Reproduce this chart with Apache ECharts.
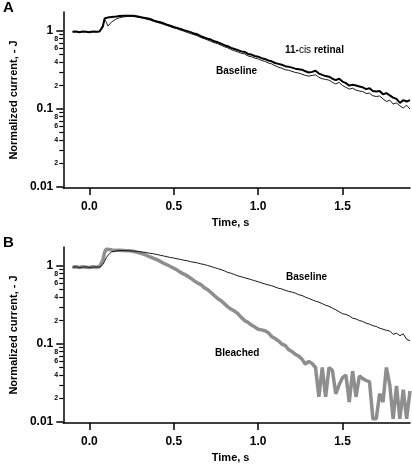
<!DOCTYPE html>
<html><head><meta charset="utf-8">
<script src="https://cdn.jsdelivr.net/npm/echarts@6/dist/echarts.min.js"></script>
<style>html,body{margin:0;padding:0;background:#fff}#c{width:412px;height:464px}</style>
</head><body><div id="c"></div>
<script>
// Time samples, s
const time = [-0.10,-0.08,-0.06,-0.04,-0.02,0.00,0.02,0.04,0.06,0.07,0.08,0.09,0.10,0.11,0.12,0.13,0.14,
0.16,0.18,0.20,0.22,0.24,0.26,0.28,0.30,0.32,0.34,0.36,0.38,0.40,0.42,0.44,0.46,0.48,0.50,0.52,0.54,0.56,0.58,
0.60,0.62,0.64,0.66,0.68,0.70,0.72,0.74,0.76,0.78,0.80,0.82,0.84,0.86,0.88,0.90,0.92,0.94,0.96,0.98,1.00,
1.02,1.04,1.06,1.08,1.10,1.12,1.14,1.16,1.18,1.20,1.22,1.24,1.26,1.28,1.30,1.32,1.34,1.36,1.38,1.40,
1.42,1.44,1.46,1.48,1.50,1.52,1.54,1.56,1.58,1.60,1.62,1.64,1.66,1.68,1.70,1.72,1.74,1.76,1.78,1.80,
1.82,1.84,1.86,1.88,1.90];

// Panel A: thick black, 11-cis retinal
const cisRetinal = [0.98,0.99,0.97,0.99,0.98,0.97,0.99,0.98,0.99,1.00,1.15,1.45,1.50,1.50,1.51,1.52,1.53,
1.54,1.56,1.57,1.58,1.58,1.57,1.55,1.52,1.49,1.46,1.43,1.37,1.33,1.30,1.26,1.21,1.17,1.13,1.10,1.07,1.03,1.00,
0.97,0.93,0.91,0.86,0.83,0.80,0.78,0.74,0.72,0.69,0.66,0.64,0.61,0.59,0.57,0.55,0.54,0.51,0.50,0.48,0.47,
0.45,0.44,0.42,0.41,0.39,0.38,0.37,0.355,0.35,0.34,0.33,0.325,0.32,0.305,0.295,0.30,0.31,0.285,0.275,0.265,
0.26,0.245,0.235,0.245,0.225,0.215,0.20,0.205,0.20,0.195,0.19,0.18,0.185,0.17,0.168,0.17,0.155,0.16,0.15,0.14,
0.135,0.12,0.13,0.125,0.13];

// Panel A: thin black, baseline
const baselineA = [0.98,0.99,0.97,0.99,0.98,0.97,0.99,0.98,0.99,1.00,1.20,1.42,1.30,1.16,1.22,1.30,1.36,
1.44,1.49,1.52,1.54,1.55,1.54,1.52,1.49,1.46,1.42,1.39,1.34,1.30,1.26,1.22,1.18,1.14,1.10,1.07,1.03,1.00,0.96,
0.93,0.90,0.87,0.83,0.80,0.77,0.74,0.71,0.69,0.66,0.63,0.61,0.58,0.56,0.54,0.52,0.51,0.48,0.47,0.45,0.44,
0.42,0.41,0.39,0.38,0.36,0.345,0.335,0.32,0.315,0.305,0.295,0.29,0.28,0.27,0.265,0.27,0.275,0.255,0.245,0.24,
0.235,0.22,0.21,0.22,0.20,0.19,0.18,0.185,0.175,0.17,0.168,0.158,0.16,0.148,0.145,0.147,0.135,0.125,0.13,0.116,
0.12,0.11,0.103,0.112,0.10];

// Panel B: thin black, baseline
const baselineB = [0.97,0.98,0.96,0.97,0.98,0.96,0.97,0.98,0.97,0.98,1.05,1.15,1.28,1.38,1.46,1.52,1.55,
1.57,1.58,1.58,1.58,1.57,1.56,1.55,1.53,1.51,1.49,1.46,1.44,1.41,1.38,1.35,1.32,1.29,1.27,1.24,1.22,1.19,1.17,
1.14,1.12,1.10,1.07,1.05,1.02,0.99,0.96,0.93,0.90,0.87,0.83,0.81,0.78,0.75,0.73,0.71,0.69,0.67,0.65,0.63,
0.61,0.59,0.575,0.56,0.54,0.52,0.51,0.49,0.475,0.465,0.45,0.43,0.42,0.40,0.385,0.37,0.355,0.345,0.33,0.315,
0.305,0.29,0.275,0.26,0.245,0.24,0.23,0.215,0.21,0.20,0.195,0.185,0.18,0.172,0.168,0.16,0.155,0.15,0.147,0.133,
0.138,0.128,0.135,0.115,0.11];

// Panel B: thick grey, bleached
const bleached = [0.97,0.98,0.96,0.98,0.97,0.96,0.98,0.97,0.98,1.00,1.20,1.50,1.65,1.69,1.64,1.60,1.59,
1.60,1.60,1.59,1.58,1.57,1.55,1.51,1.47,1.43,1.37,1.31,1.26,1.21,1.15,1.09,1.04,0.99,0.94,0.89,0.83,0.79,0.75,
0.70,0.65,0.61,0.58,0.53,0.50,0.46,0.42,0.385,0.36,0.33,0.30,0.28,0.265,0.245,0.22,0.20,0.19,0.175,0.165,0.155,
0.152,0.148,0.14,0.125,0.118,0.11,0.10,0.096,0.085,0.08,0.074,0.07,0.064,0.055,0.06,0.056,0.05,0.021,0.05,0.021,
0.05,0.046,0.023,0.03,0.037,0.04,0.018,0.045,0.021,0.039,0.036,0.034,0.033,0.011,0.011,0.023,0.018,0.05,0.03,0.011,
0.029,0.011,0.026,0.011,0.025];

const xTicks = [0, 0.5, 1.0, 1.5];
const yMajor = [0.01, 0.1, 1];
const yMinorTicks = [0.02,0.03,0.04,0.05,0.06,0.07,0.08,0.09,0.2,0.3,0.4,0.5,0.6,0.7,0.8,0.9];
const yMinorLabels = [0.02,0.04,0.06,0.08,0.2,0.4,0.6,0.8];

const FONT = '"Liberation Sans", Arial, sans-serif';
const pairs = (vals) => time.map((t, i) => [t, vals[i]]);

function xAxis(gi) {
  return {
    type: 'value', gridIndex: gi, min: -0.155, max: 1.9, position: 'bottom',
    name: 'Time, s', nameLocation: 'middle', nameGap: 29,
    nameTextStyle: { fontFamily: FONT, fontWeight: 'bold', fontSize: 11, color: '#000', padding: [0, 12, 0, 0] },
    axisLine: { show: true, onZero: false, lineStyle: { color: '#000', width: 1.5 } },
    axisTick: { show: true, inside: false, length: 7, lineStyle: { color: '#000', width: 1.5 }, customValues: xTicks },
    axisLabel: { show: true, margin: 13, customValues: xTicks, fontFamily: FONT, fontWeight: 'bold', fontSize: 12, color: '#000',
      formatter: (v) => v.toFixed(1) },
    splitLine: { show: false }
  };
}
function yMajorAxis(gi) {
  return {
    type: 'log', logBase: 10, gridIndex: gi, min: 0.0097, max: 1.76, position: 'left',
    name: 'Normalized current, - J', nameLocation: 'middle', nameGap: 34,
    nameTextStyle: { fontFamily: FONT, fontWeight: 'bold', fontSize: 11, color: '#000' },
    axisLine: { show: true, onZero: false, lineStyle: { color: '#000', width: 1.5 } },
    axisTick: { show: true, inside: false, length: 7, lineStyle: { color: '#000', width: 1.5 }, customValues: yMajor },
    axisLabel: { show: true, margin: 10, customValues: yMajor, fontFamily: FONT, fontWeight: 'bold', fontSize: 12, color: '#000',
      formatter: (v) => (v >= 0.5 ? '1' : (v >= 0.05 ? '0.1' : '0.01')) },
    splitLine: { show: false }, minorTick: { show: false }
  };
}
function yMinorAxis(gi) {
  return {
    type: 'log', logBase: 10, gridIndex: gi, min: 0.0097, max: 1.76, position: 'left', offset: 0,
    axisLine: { show: false, onZero: false },
    axisTick: { show: true, inside: false, length: 4, lineStyle: { color: '#000', width: 1.2 }, customValues: yMinorTicks },
    axisLabel: { show: true, margin: 5, customValues: yMinorLabels, fontFamily: FONT, fontWeight: 'bold', fontSize: 7, color: '#000',
      formatter: (v) => String(Math.round(v / Math.pow(10, Math.floor(Math.log10(v) + 1e-9)))) },
    splitLine: { show: false }
  };
}

const chart = echarts.init(document.getElementById('c'), null, { renderer: 'canvas' });
chart.setOption({
  animation: false,
  backgroundColor: '#fff',
  grid: [
    { left: 52, top: 12, width: 358, height: 176 },
    { left: 52, top: 247, width: 358, height: 176 }
  ],
  xAxis: [xAxis(0), xAxis(1)],
  yAxis: [yMajorAxis(0), yMinorAxis(0), yMajorAxis(1), yMinorAxis(1)],
  series: [
    { name: 'Baseline A', type: 'line', xAxisIndex: 0, yAxisIndex: 0, data: pairs(baselineA), showSymbol: false,
      lineStyle: { color: '#000', width: 0.9 }, z: 2 },
    { name: '11-cis retinal', type: 'line', xAxisIndex: 0, yAxisIndex: 0, data: pairs(cisRetinal), showSymbol: false,
      lineStyle: { color: '#000', width: 2 }, z: 3 },
    { name: 'Bleached', type: 'line', xAxisIndex: 1, yAxisIndex: 2, data: pairs(bleached), showSymbol: false,
      lineStyle: { color: '#8e8e8e', width: 3.5 }, z: 2 },
    { name: 'Baseline B', type: 'line', xAxisIndex: 1, yAxisIndex: 2, data: pairs(baselineB), showSymbol: false,
      lineStyle: { color: '#000', width: 0.9 }, z: 3 }
  ],
  graphic: [
    { type: 'text', left: 3, top: 0, style: { text: 'A', font: 'bold 15px ' + FONT, fill: '#000' } },
    { type: 'text', left: 3, top: 235, style: { text: 'B', font: 'bold 15px ' + FONT, fill: '#000' } },
    { type: 'text', x: 285, y: 50, style: { text: '{b|11-}{n|cis}{b| retinal}', verticalAlign: 'middle',
      rich: { b: { font: 'bold 10px ' + FONT, fill: '#000' }, n: { font: '10px ' + FONT, fill: '#000' } } } },
    { type: 'text', x: 216, y: 71, style: { text: 'Baseline', font: 'bold 10px ' + FONT, fill: '#000', verticalAlign: 'middle' } },
    { type: 'text', x: 286, y: 277, style: { text: 'Baseline', font: 'bold 10px ' + FONT, fill: '#000', verticalAlign: 'middle' } },
    { type: 'text', x: 215, y: 353, style: { text: 'Bleached', font: 'bold 10px ' + FONT, fill: '#000', verticalAlign: 'middle' } }
  ]
});
</script></body></html>
